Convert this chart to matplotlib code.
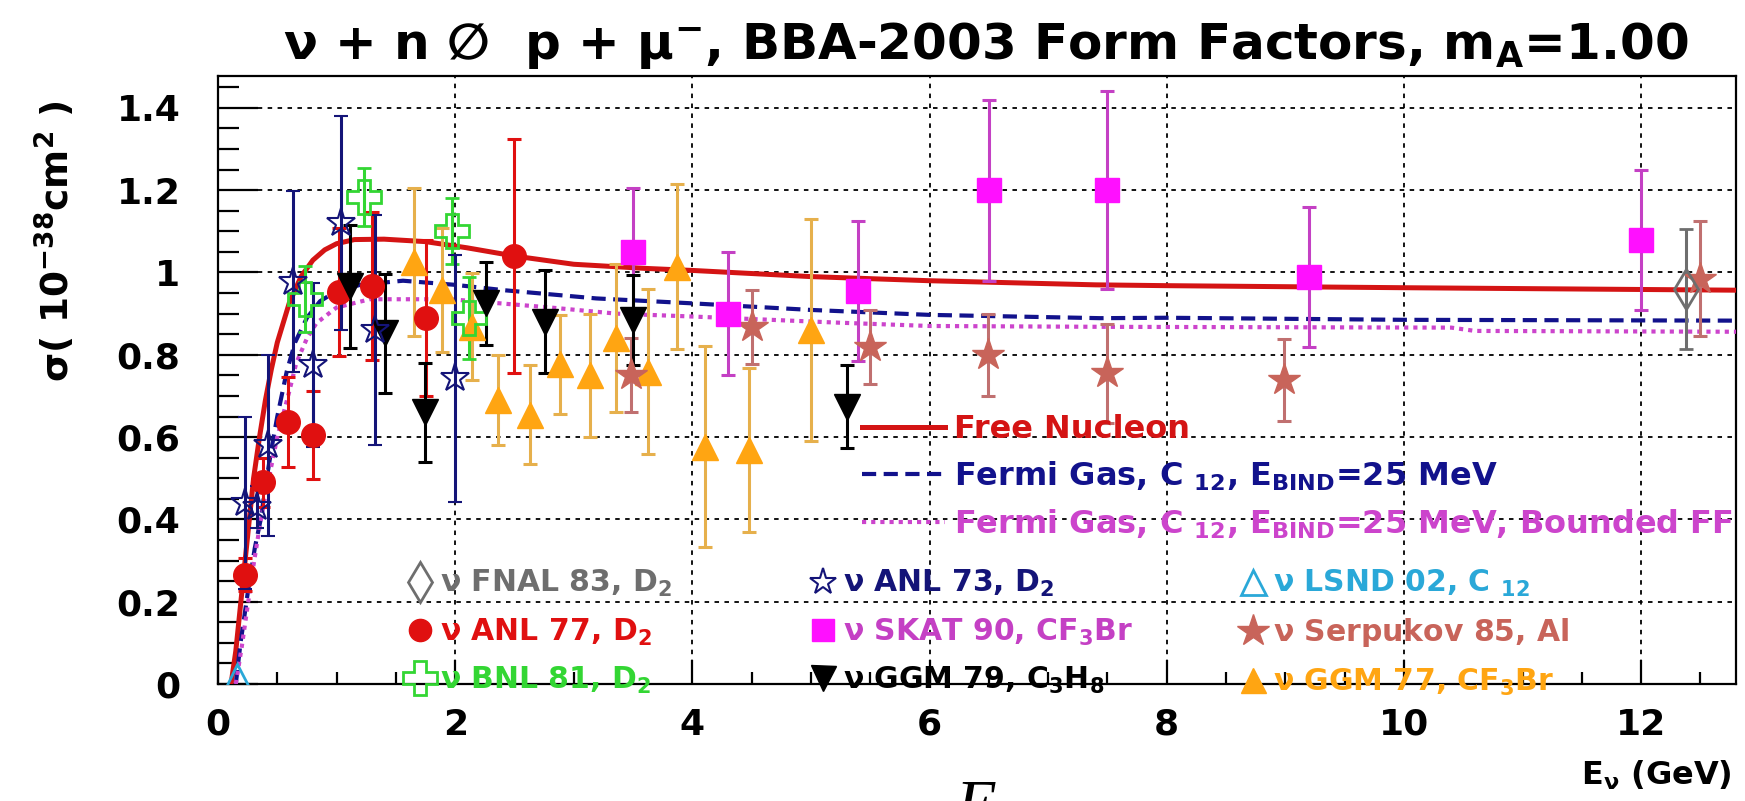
import matplotlib
matplotlib.use("Agg")
import matplotlib.pyplot as plt
from matplotlib.lines import Line2D
from matplotlib.ticker import MultipleLocator, FuncFormatter

plt.rcParams['font.family'] = ['DejaVu Sans']
plt.rcParams['font.weight'] = 'bold'
plt.rcParams['mathtext.fontset'] = 'dejavusans'
plt.rcParams['mathtext.default'] = 'bf'

# ---------------- theory curves (E in GeV, sigma in 1e-38 cm^2) ----------------
free_E = [0.11, 0.15, 0.20, 0.25, 0.30, 0.35, 0.40, 0.45, 0.50, 0.60, 0.70, 0.80,
          0.90, 1.00, 1.15, 1.40, 1.75, 2.10, 2.50, 3.00, 3.60, 4.00, 5.00, 6.00,
          7.40, 8.00, 10.0, 12.8]
free_sig = [0.00, 0.08, 0.22, 0.36, 0.50, 0.60, 0.69, 0.765, 0.83, 0.925, 0.99, 1.03,
            1.055, 1.07, 1.08, 1.081, 1.075, 1.06, 1.04, 1.02, 1.01, 1.005, 0.99, 0.98,
            0.97, 0.968, 0.963, 0.957]

fg_E = [0.15, 0.19, 0.25, 0.31, 0.36, 0.40, 0.45, 0.50, 0.58, 0.65, 0.75, 0.86, 1.00,
        1.20, 1.56, 2.00, 2.41, 3.19, 4.00, 5.00, 6.00, 7.44, 8.00, 10.0, 12.8]
fg_sig = [0.00, 0.10, 0.22, 0.33, 0.40, 0.48, 0.57, 0.65, 0.76, 0.83, 0.89, 0.93, 0.955,
          0.97, 0.98, 0.97, 0.957, 0.937, 0.925, 0.909, 0.897, 0.889, 0.89, 0.885, 0.883]

bff_E = [0.15, 0.20, 0.25, 0.30, 0.35, 0.40, 0.50, 0.60, 0.66, 0.75, 0.83, 1.00, 1.28,
         1.96, 2.80, 3.36, 4.00, 5.24, 6.00, 7.44, 10.4, 10.6, 12.8]
bff_sig = [0.00, 0.09, 0.19, 0.29, 0.38, 0.46, 0.60, 0.71, 0.78, 0.84, 0.877, 0.915, 0.935,
           0.935, 0.915, 0.90, 0.893, 0.878, 0.87, 0.868, 0.866, 0.858, 0.856]

# ---------------- measurements ----------------
fnal83_E = [12.38]
fnal83_sig = [0.96]
fnal83_err = [0.145]

anl77_E = [0.23, 0.38, 0.59, 0.80, 1.02, 1.30, 1.75, 2.50]
anl77_sig = [0.265, 0.49, 0.637, 0.605, 0.953, 0.967, 0.889, 1.04]
anl77_err = [0.04, 0.06, 0.11, 0.107, 0.155, 0.18, 0.19, 0.285]

bnl81_E = [0.73, 1.23, 1.97, 2.12]
bnl81_sig = [0.935, 1.184, 1.10, 0.89]
bnl81_err = [0.08, 0.07, 0.08, 0.10]

anl73_E = [0.23, 0.33, 0.42, 0.63, 0.80, 1.04, 1.32, 2.00]
anl73_sig = [0.44, 0.43, 0.58, 0.978, 0.775, 1.12, 0.86, 0.743]
anl73_err = [0.21, 0.05, 0.22, 0.22, 0.20, 0.26, 0.28, 0.30]

skat90_E = [3.5, 4.3, 5.4, 6.5, 7.5, 9.2, 12.0]
skat90_sig = [1.05, 0.90, 0.955, 1.20, 1.20, 0.99, 1.08]
skat90_err = [0.155, 0.15, 0.17, 0.22, 0.24, 0.17, 0.17]

ggm79_E = [1.11, 1.41, 1.745, 2.26, 2.76, 3.5, 5.3]
ggm79_sig = [0.966, 0.852, 0.66, 0.925, 0.88, 0.885, 0.674]
ggm79_err = [0.15, 0.145, 0.12, 0.10, 0.125, 0.11, 0.10]

lsnd02_E = [0.16]
lsnd02_sig = [0.02]

serp85_E = [3.48, 4.5, 5.5, 6.49, 7.5, 8.99, 12.5]
serp85_sig = [0.75, 0.868, 0.82, 0.80, 0.755, 0.738, 0.985]
serp85_err = [0.09, 0.09, 0.09, 0.10, 0.12, 0.10, 0.14]

ggm77_E = [1.65, 1.89, 2.14, 2.36, 2.63, 2.88, 3.14, 3.36, 3.63, 3.87, 4.11, 4.48, 5.0]
ggm77_sig = [1.026, 0.957, 0.868, 0.69, 0.654, 0.777, 0.75, 0.84, 0.759, 1.014, 0.577, 0.569, 0.86]
ggm77_err = [0.18, 0.15, 0.13, 0.11, 0.12, 0.12, 0.15, 0.18, 0.20, 0.20, 0.245, 0.20, 0.27]

x_ticks = [0, 2, 4, 6, 8, 10, 12]
y_ticks = [0, 0.2, 0.4, 0.6, 0.8, 1.0, 1.2, 1.4]

# ---------------- colours ----------------
C_FREE = '#d41414'
C_FG = '#12128c'
C_BFF = '#cc44cc'
C_FNAL = '#6e6e6e'
C_ANL77 = '#e01010'
C_BNL = '#33d633'
C_ANL73 = '#141478'
C_SKAT = '#ff10ff'
C_SKAT_BAR = '#c440c4'
C_GGM79 = '#000000'
C_LSND = '#2aa8d8'
C_SERP = '#c8645a'
C_SERP_BAR = '#c07070'
C_GGM77 = '#ffa512'
C_GGM77_BAR = '#e6b04c'

W, H = 1745, 801
fig = plt.figure(figsize=(W / 100, H / 100), dpi=100)
fig.patch.set_facecolor('white')


def fx(px):
    return px / W


def fy(py):
    return 1 - py / H


ax = fig.add_axes([fx(218), fy(684), fx(1736) - fx(218), fy(76) - fy(684)])
ax.set_xlim(0, 12.8)
ax.set_ylim(0, 1.4775)

# theory curves
ax.plot(free_E, free_sig, color=C_FREE, lw=3.6, zorder=3)
ax.plot(fg_E, fg_sig, color=C_FG, lw=3.0, ls=(0, (3.4, 1.8)), zorder=3)
ax.plot(bff_E, bff_sig, color=C_BFF, lw=3.0, ls=(0, (1.0, 1.2)), zorder=3)

eb = dict(ls='none', elinewidth=2.2, capsize=5, capthick=2.2, zorder=4)

ax.errorbar(ggm77_E, ggm77_sig, yerr=ggm77_err, fmt='^', ms=19, mfc=C_GGM77, mec=C_GGM77,
            ecolor=C_GGM77_BAR, **eb)
ax.errorbar(serp85_E, serp85_sig, yerr=serp85_err, fmt='*', ms=24, mfc=C_SERP, mec=C_SERP,
            ecolor=C_SERP_BAR, **eb)
ax.errorbar(skat90_E, skat90_sig, yerr=skat90_err, fmt='s', ms=17, mfc=C_SKAT, mec=C_SKAT,
            ecolor=C_SKAT_BAR, **eb)
ax.errorbar(anl77_E, anl77_sig, yerr=anl77_err, fmt='o', ms=17, mfc=C_ANL77, mec=C_ANL77,
            ecolor=C_ANL77, **eb)
ax.errorbar(bnl81_E, bnl81_sig, yerr=bnl81_err, fmt='P', ms=24, mfc='none', mec=C_BNL,
            mew=2.0, ecolor=C_BNL, **eb)
ax.errorbar(ggm79_E, ggm79_sig, yerr=ggm79_err, fmt='v', ms=19, mfc=C_GGM79, mec=C_GGM79,
            ecolor=C_GGM79, **eb)
ax.errorbar(anl73_E, anl73_sig, yerr=anl73_err, fmt='*', ms=21, mfc='none', mec=C_ANL73,
            mew=1.5, ecolor=C_ANL73, **eb)
ax.errorbar(fnal83_E, fnal83_sig, yerr=fnal83_err, fmt='d', ms=20, mfc='none', mec=C_FNAL,
            mew=2.0, ecolor=C_FNAL, **eb)
ax.plot(lsnd02_E, lsnd02_sig, ls='none', marker='^', ms=18, mfc='none', mec=C_LSND,
        mew=2.0, zorder=5)

# axes styling
ax.set_xticks(x_ticks)
ax.set_yticks(y_ticks)
ax.xaxis.set_minor_locator(MultipleLocator(0.5))
ax.yaxis.set_minor_locator(MultipleLocator(0.05))
ax.yaxis.set_major_formatter(FuncFormatter(lambda v, p: f"{v:g}"))
ax.xaxis.set_major_formatter(FuncFormatter(lambda v, p: f"{v:g}"))
ax.tick_params(axis='y', which='major', direction='in', length=29, width=1.6,
               labelsize=26, pad=27, right=False)
ax.tick_params(axis='y', which='minor', direction='in', length=15, width=1.6, right=False)
ax.tick_params(axis='x', which='major', direction='in', length=17, width=1.6,
               labelsize=26, pad=17, top=False)
ax.tick_params(axis='x', which='minor', direction='in', length=8.6, width=1.6, top=False)
for lab in ax.get_xticklabels() + ax.get_yticklabels():
    lab.set_fontweight('bold')
for sp in ax.spines.values():
    sp.set_linewidth(1.6)
ax.grid(True, which='major', color='black', ls=(0, (2.5, 3)), lw=1.3)
ax.set_axisbelow(True)

# titles
fig.text(fx(986), fy(59), r"$\mathrm{ν}$ + n $\mathrm{∅}$  p + $\mathrm{μ}^{-}$, BBA-2003 Form Factors, m$_{A}$=1.00",
         ha='center', va='baseline', fontsize=36, fontweight='bold')
fig.text(fx(56), fy(100), r"σ( 10$^{-38}$cm$^{2}$ )", rotation=90, ha='center', va='top',
         fontsize=27, fontweight='bold')
fig.text(fx(1732), fy(775), r"E$_{\mathrm{ν}}$ (GeV)", ha='right', va='center',
         fontsize=23, fontweight='bold')
fig.text(fx(956), fy(826), "E", family='Liberation Serif', style='italic',
         fontweight='normal', fontsize=48, va='baseline', ha='left')

# legends


def add_legend(handles, labels, colors, x_px, y_px, fs, **kw):
    leg = fig.legend(handles, labels, loc='upper left', bbox_to_anchor=(fx(x_px), fy(y_px)),
                     bbox_transform=fig.transFigure, frameon=False, borderpad=0,
                     borderaxespad=0, fontsize=fs, **kw)
    for t, c in zip(leg.get_texts(), colors):
        t.set_color(c)
        t.set_fontweight('bold')
    return leg


curve_handles = [Line2D([], [], color=C_FREE, lw=3.6),
                 Line2D([], [], color=C_FG, lw=3.0, ls=(0, (3.4, 1.8))),
                 Line2D([], [], color=C_BFF, lw=3.0, ls=(0, (1.0, 1.2)))]
curve_labels = ["Free Nucleon",
                r"Fermi Gas, C $_{12}$, E$_{BIND}$=25 MeV",
                r"Fermi Gas, C $_{12}$, E$_{BIND}$=25 MeV, Bounded FF"]
add_legend(curve_handles, curve_labels, [C_FREE, C_FG, C_BFF], 862, 414, 23,
           handlelength=2.6, handletextpad=0.28, labelspacing=0.45)


def mk(marker, ms, fc, ec, mew=1.0):
    return Line2D([], [], ls='none', marker=marker, ms=ms, mfc=fc, mec=ec, mew=mew)


col_kw = dict(handlelength=0.95, handletextpad=0.2, labelspacing=0.58)
MFS = 21.5
add_legend([mk('d', 20, 'none', C_FNAL, 2.0), mk('o', 16, C_ANL77, C_ANL77), mk('P', 24, 'none', C_BNL, 2.0)],
           [r"$\mathrm{ν}$ FNAL 83, D$_2$", r"$\mathrm{ν}$ ANL 77, D$_2$", r"$\mathrm{ν}$ BNL 81, D$_2$"],
           [C_FNAL, C_ANL77, C_BNL], 406, 568, MFS, **col_kw)
add_legend([mk('*', 20, 'none', C_ANL73, 1.5), mk('s', 16, C_SKAT, C_SKAT), mk('v', 18, C_GGM79, C_GGM79)],
           [r"$\mathrm{ν}$ ANL 73, D$_2$", r"$\mathrm{ν}$ SKAT 90, CF$_3$Br", r"$\mathrm{ν}$ GGM 79, C$_3$H$_8$"],
           [C_ANL73, C_SKAT_BAR, C_GGM79], 809, 568, MFS, **col_kw)
add_legend([mk('^', 18, 'none', C_LSND, 2.0), mk('*', 24, C_SERP, C_SERP), mk('^', 18, C_GGM77, C_GGM77)],
           [r"$\mathrm{ν}$ LSND 02, C $_{12}$", r"$\mathrm{ν}$ Serpukov 85, Al", r"$\mathrm{ν}$ GGM 77, CF$_3$Br"],
           [C_LSND, C_SERP, C_GGM77], 1239, 568, MFS, **col_kw)

fig.savefig("out.png", dpi=100)
